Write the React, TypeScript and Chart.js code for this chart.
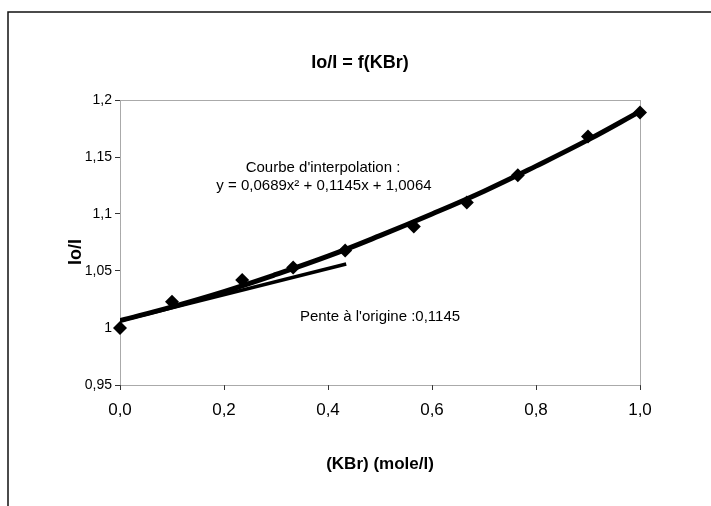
import React, { useEffect, useRef } from 'react';
import { Chart, registerables } from 'chart.js';

Chart.register(...registerables);

// Measured points (KBr concentration, Io/I)
const measuredX = [0, 0.1, 0.235, 0.333, 0.433, 0.565, 0.667, 0.765, 0.9, 1.0];
const measuredY = [1.0, 1.023, 1.042, 1.053, 1.068, 1.089, 1.11, 1.134, 1.168, 1.189];

// Interpolation curve
const curveX = [0, 0.1, 0.2, 0.3, 0.4, 0.5, 0.6, 0.7, 0.8, 0.9, 1.0];
const curveY = [1.0064, 1.0186, 1.032, 1.047, 1.063, 1.081, 1.1, 1.12, 1.142, 1.165, 1.19];

// Tangent at origin
const tangentX = [0, 0.435];
const tangentY = [1.0064, 1.0562];

const xTickValues = [0, 0.2, 0.4, 0.6, 0.8, 1.0];
const xTickLabels = ['0,0', '0,2', '0,4', '0,6', '0,8', '1,0'];
const yTickValues = [0.95, 1.0, 1.05, 1.1, 1.15, 1.2];
const yTickLabels = ['0,95', '1', '1,05', '1,1', '1,15', '1,2'];

const chartTitle = 'Io/I = f(KBr)';
const xTitle = '(KBr) (mole/l)';
const yTitle = 'Io/I';
const curveNote1 = "Courbe d'interpolation :";
const curveNote2 = 'y = 0,0689x² + 0,1145x + 1,0064';
const slopeNote = "Pente à l'origine :0,1145";

const FONT = '"Liberation Sans", Arial, sans-serif';

const decorPlugin = {
  id: 'decor',
  beforeDatasetsDraw(chart: any) {
    const { ctx, chartArea } = chart;
    ctx.save();
    ctx.strokeStyle = '#555';
    ctx.lineWidth = 1;
    ctx.setLineDash([1, 1]);
    ctx.strokeRect(chartArea.left + 0.5, chartArea.top + 0.5, chartArea.right - chartArea.left, chartArea.bottom - chartArea.top);
    ctx.restore();
  },
  afterDraw(chart: any) {
    const { ctx } = chart;
    ctx.save();
    // outer frame (top + left)
    ctx.strokeStyle = '#111';
    ctx.lineWidth = 1.5;
    ctx.beginPath();
    ctx.moveTo(8, 506);
    ctx.lineTo(8, 12);
    ctx.lineTo(711, 12);
    ctx.stroke();

    ctx.fillStyle = '#000';
    ctx.textAlign = 'center';
    ctx.textBaseline = 'middle';
    ctx.font = `bold 18px ${FONT}`;
    ctx.fillText(chartTitle, 360, 63);
    ctx.font = `bold 17px ${FONT}`;
    ctx.fillText(xTitle, 380, 464);
    ctx.save();
    ctx.translate(76, 252);
    ctx.rotate(-Math.PI / 2);
    ctx.font = `bold 18px ${FONT}`;
    ctx.fillText(yTitle, 0, 0);
    ctx.restore();

    ctx.font = `15px ${FONT}`;
    ctx.fillText(curveNote1, 323, 168);
    ctx.fillText(curveNote2, 324, 186);
    ctx.fillText(slopeNote, 380, 317);
    ctx.restore();
  },
};

export default function App() {
  const ref = useRef<HTMLCanvasElement | null>(null);
  useEffect(() => {
    if (!ref.current) return;
    const chart = new Chart(ref.current, {
      type: 'scatter',
      data: {
        datasets: [
          {
            label: 'curve',
            data: curveX.map((x, i) => ({ x, y: curveY[i] })),
            showLine: true,
            borderColor: '#000',
            borderWidth: 5,
            pointRadius: 0,
            tension: 0.4,
            order: 2,
          },
          {
            label: 'tangent',
            data: tangentX.map((x, i) => ({ x, y: tangentY[i] })),
            showLine: true,
            borderColor: '#000',
            borderWidth: 3.5,
            pointRadius: 0,
            order: 3,
          },
          {
            label: 'points',
            data: measuredX.map((x, i) => ({ x, y: measuredY[i] })),
            showLine: false,
            pointStyle: 'rectRot',
            pointRadius: 7,
            backgroundColor: '#000',
            borderColor: '#000',
            borderWidth: 0,
            clip: false,
            order: 1,
          },
        ],
      },
      options: {
        animation: false,
        responsive: false,
        maintainAspectRatio: false,
        layout: { padding: { top: 100, right: 71, left: 0, bottom: 0 } },
        plugins: {
          legend: { display: false },
          tooltip: { enabled: false },
          title: { display: false },
        },
        scales: {
          x: {
            type: 'linear',
            min: 0,
            max: 1,
            afterBuildTicks: (s: any) => {
              s.ticks = xTickValues.map((v) => ({ value: v }));
            },
            afterFit: (s: any) => {
              s.height = 121;
            },
            ticks: {
              callback: (_v: any, i: number) => xTickLabels[i],
              color: '#000',
              font: { family: FONT, size: 17 },
              padding: 10,
              maxRotation: 0,
              autoSkip: false,
            },
            grid: { drawOnChartArea: false, drawTicks: true, tickLength: 5, color: '#333' },
            border: { display: false },
          },
          y: {
            type: 'linear',
            min: 0.95,
            max: 1.2,
            afterBuildTicks: (s: any) => {
              s.ticks = yTickValues.map((v) => ({ value: v }));
            },
            afterFit: (s: any) => {
              s.width = 120;
            },
            ticks: {
              callback: (_v: any, i: number) => yTickLabels[i],
              color: '#000',
              font: { family: FONT, size: 14 },
              padding: 3,
              autoSkip: false,
            },
            grid: { drawOnChartArea: false, drawTicks: true, tickLength: 5, color: '#333' },
            border: { display: false },
          },
        },
      },
      plugins: [decorPlugin],
    });
    return () => chart.destroy();
  }, []);

  return (
    <div style={{ position: 'absolute', left: 0, top: 0, width: 711, height: 506, background: '#fff' }}>
      <canvas ref={ref} width={711} height={506} style={{ display: 'block', width: 711, height: 506 }} />
    </div>
  );
}
